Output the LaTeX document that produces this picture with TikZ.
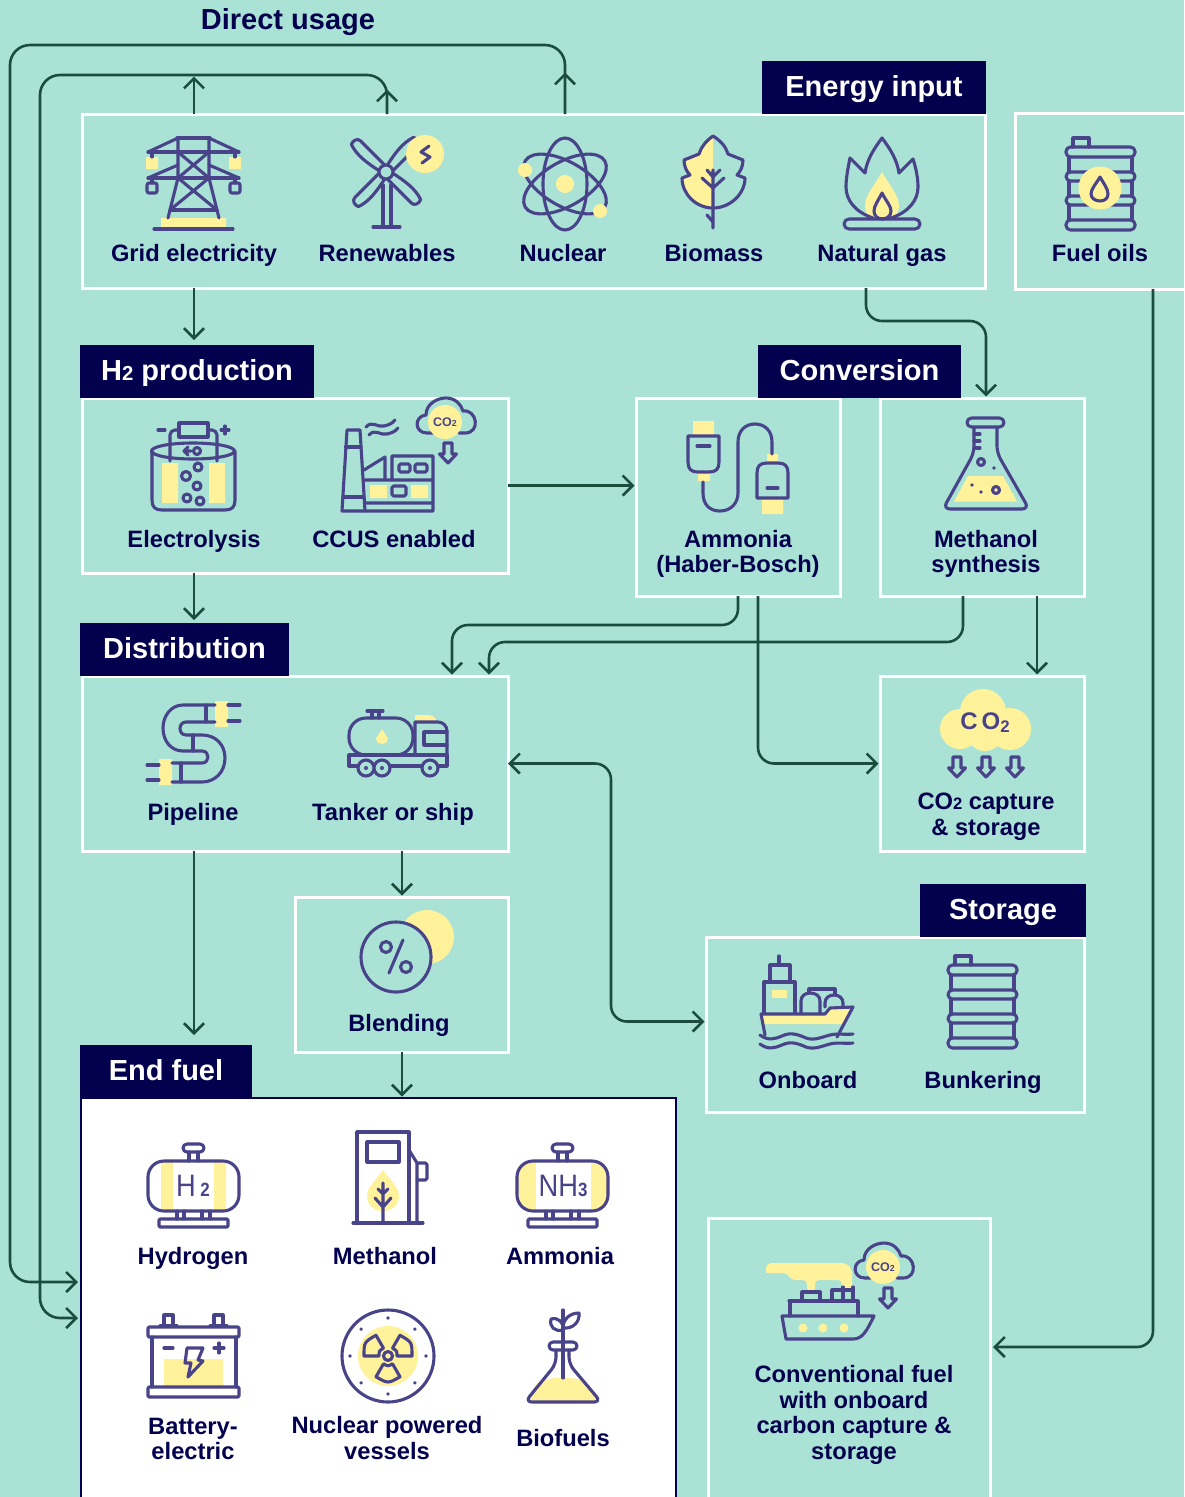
\documentclass[tikz,border=0pt]{standalone}
\usepackage{fontspec}
\setmainfont{Liberation Sans}
\usetikzlibrary{arrows.meta}
\definecolor{seafoam}{HTML}{AAE3D6}
\definecolor{navyink}{HTML}{03004D}
\definecolor{iconink}{HTML}{49438A}
\definecolor{sunny}{HTML}{FFF29B}
\definecolor{pipegreen}{HTML}{1B4D3E}
\tikzset{
  panel/.style={draw=white, line width=3pt, anchor=north west, inner sep=0pt, outer sep=0pt},
  tag/.style={fill=navyink, text=white, inner sep=0pt, outer sep=0pt, minimum height=53pt,
    text height=21pt, text depth=3pt, font=\fontsize{29}{31}\selectfont\bfseries},
  lbl/.style={text=navyink, inner sep=0pt, anchor=base, align=center,
    font=\fontsize{23.7}{25.6}\selectfont\bfseries},
  flow/.style={draw=pipegreen, line width=2.6pt, rounded corners=16pt, shorten >=1.5pt,
    -{Straight Barb[length=10pt,width=20pt]}},
  ink/.style={draw=iconink, line width=3.1pt, line cap=round, line join=round},
  sun/.style={fill=sunny, draw=none},
  inktext/.style={text=iconink, inner sep=0pt}
}
\newcommand{\smalltwo}{\scalebox{0.7}{2}}
\newcommand{\barrelicon}[2]{%
  \begin{scope}[shift={(#1,#2)}]
    \draw[ink] (7,9) -- (7,0) -- (23,0) -- (23,9);
    \draw[ink] (3,19) -- (3,34) (66,19) -- (66,34) (3,43) -- (3,58) (66,43) -- (66,58) (3,67) -- (3,82) (66,67) -- (66,82);
    \draw[ink, rounded corners=4.5pt] (0,9) rectangle (69,19);
    \draw[ink, rounded corners=4.5pt] (0,34) rectangle (69,43);
    \draw[ink, rounded corners=4.5pt] (0,58) rectangle (69,67);
    \draw[ink, rounded corners=4.5pt] (0,82) rectangle (69,92);
  \end{scope}}
\newcommand{\cloudicon}[2]{%
  \begin{scope}[shift={(#1,#2)}]
    \draw[ink] (-12,11) -- (-18,11) .. controls (-31,11) and (-31,-6) .. (-19,-7)
      .. controls (-19,-18) and (-8,-24) .. (1,-24) .. controls (10,-24) and (16,-18) .. (18,-11)
      .. controls (32,-13) and (36,11) .. (20,11) -- (14,11);
    \fill[sun] (0,0) circle (17);
    \node[inktext, font=\fontsize{12.5}{13}\selectfont\bfseries] at (0,0.5) {CO\smalltwo};
  \end{scope}}
\newcommand{\sinkarrow}[2]{%
  \draw[ink, shift={(#1,#2)}] (-4,0) -- (4,0) -- (4,11) -- (8.5,11) -- (0,20) -- (-8.5,11) -- (-4,11) -- cycle;}
\newcommand{\gastank}[2]{%
  \begin{scope}[shift={(#1,#2)}]
    \draw[ink, rounded corners=16pt] (0,17) rectangle (91,67);
    \draw[ink, rounded corners=4pt] (35,0) rectangle (56,8);
    \draw[ink] (41,8) -- (41,17) (50,8) -- (50,17) (29,67) -- (29,75) (36,67) -- (36,75) (54,67) -- (54,75) (62,67) -- (62,75);
    \draw[ink, rounded corners=1pt] (11,75) rectangle (80,83);
  \end{scope}}

\begin{document}
\begin{tikzpicture}[x=1pt, y=-1pt]
\useasboundingbox (0,0) rectangle (1184,1497);
\fill[seafoam] (0,0) rectangle (1184,1497);

% panels
\node[panel, minimum width=903pt, minimum height=174pt] (energy) at (82,114) {};
\node[panel, minimum width=180pt, minimum height=176pt] (fuel) at (1015,113) {};
\node[panel, minimum width=426pt, minimum height=175pt] (hprod) at (82,398) {};
\node[panel, minimum width=204pt, minimum height=198pt] (ammonia) at (636,398) {};
\node[panel, minimum width=204pt, minimum height=198pt] (methanol) at (880,398) {};
\node[panel, minimum width=426pt, minimum height=175pt] (distribution) at (82,676) {};
\node[panel, minimum width=204pt, minimum height=175pt] (capture) at (880,676) {};
\node[panel, minimum width=213pt, minimum height=155pt] (blending) at (295,897) {};
\node[panel, minimum width=378pt, minimum height=175pt] (storage) at (706,937) {};
\node[panel, draw=navyink, line width=1.5pt, fill=white, minimum width=595pt, minimum height=430pt] (endfuel) at (81,1098) {};
\node[panel, minimum width=282pt, minimum height=320pt] (conventional) at (708,1218) {};

% tags
\node[tag, anchor=south east, minimum width=224pt] (energytag) at ([xshift=1pt]energy.north east) {Energy input};
\node[tag, anchor=south west, minimum width=234pt] (hprodtag) at ([xshift=-2pt]hprod.north west) {H\smalltwo{} production};
\node[tag, anchor=south west, minimum width=203pt] (conversiontag) at ([xshift=122pt]ammonia.north west) {Conversion};
\node[tag, anchor=south west, minimum width=209pt] (distributiontag) at ([xshift=-2pt]distribution.north west) {Distribution};
\node[tag, anchor=south east, minimum width=166pt] (storagetag) at ([xshift=2pt]storage.north east) {Storage};
\node[tag, anchor=south west, minimum width=172pt] (endfueltag) at ([xshift=-1pt]endfuel.north west) {End fuel};
\node[lbl, font=\fontsize{29}{31}\selectfont\bfseries] (direct) at (288,29) {Direct usage};

% labels
\node[lbl] (gridlbl) at (194,261) {Grid electricity};
\node[lbl] (renewlbl) at (387,261) {Renewables};
\node[lbl] (nuclearlbl) at (563,261) {Nuclear};
\node[lbl] (biomasslbl) at (714,261) {Biomass};
\node[lbl] (gaslbl) at (882,261) {Natural gas};
\node[lbl] (fuellbl) at (1100,261) {Fuel oils};
\node[lbl] (electrolbl) at (194,547) {Electrolysis};
\node[lbl] (ccuslbl) at (394,547) {CCUS enabled};
\node[lbl, anchor=center] (ammonialbl) at (738,554) {Ammonia\\(Haber-Bosch)};
\node[lbl, anchor=center] (methanollbl) at (986,554) {Methanol\\synthesis};
\node[lbl] (pipelbl) at (193,820) {Pipeline};
\node[lbl] (tankerlbl) at (393,820) {Tanker or ship};
\node[lbl, anchor=center] (capturelbl) at (986,817) {CO\smalltwo{} capture\\\& storage};
\node[lbl] (blendlbl) at (399,1031) {Blending};
\node[lbl] (onboardlbl) at (808,1088) {Onboard};
\node[lbl] (bunkerlbl) at (983,1088) {Bunkering};
\node[lbl] (hydrogenlbl) at (193,1264) {Hydrogen};
\node[lbl] (methlbl) at (385,1264) {Methanol};
\node[lbl] (ammlbl) at (560,1264) {Ammonia};
\node[lbl, anchor=center] (batterylbl) at (193,1439) {Battery-\\electric};
\node[lbl, anchor=center] (nuclearvessellbl) at (387,1438) {Nuclear powered\\vessels};
\node[lbl] (biofuellbl) at (563,1446) {Biofuels};
\node[lbl, anchor=center] (conventionallbl) at (854,1415) {Conventional fuel\\with onboard\\carbon capture \&\\storage};

% connectors
\coordinate (atom) at (565,184);
\coordinate (windhub) at (387,172);
\coordinate (outerring) at (10,45);
\coordinate (innerring) at (40,75);
\coordinate (ammoniadrop) at (452,625);
\coordinate (methanoldrop) at (489,642);
\coordinate (midbus) at (611,900);
\draw[flow, rounded corners=20pt, shorten >=3pt] (atom |- energy.north) |- (outerring) |- ([yshift=-184pt]endfuel.north west);
\draw[flow] (atom |- energy.north) -- ++(0,-43);
\draw[flow, rounded corners=20pt, shorten >=3pt] (windhub |- energy.north) |- (innerring) |- ([yshift=-220pt]endfuel.north west);
\draw[flow] (windhub |- energy.north) -- ++(0,-26);
\draw[flow] (gridlbl |- energy.north) -- (gridlbl |- innerring);
\draw[flow, shorten >=5pt] (gridlbl |- energy.south) -- (gridlbl |- hprodtag.north);
\draw[flow] ([xshift=784pt]energy.south west) |- ([xshift=106pt,yshift=77pt]methanol.north west) -- ([xshift=106pt]methanol.north west);
\draw[flow] (hprod.east) -- (hprod.east -| ammonia.west);
\draw[flow, shorten >=3pt] (gridlbl |- hprod.south) -- (gridlbl |- distributiontag.north);
\draw[flow] (ammonia.south) |- (ammoniadrop) -- (ammoniadrop |- distribution.north);
\draw[flow] ([xshift=83pt]methanol.south west) |- (methanoldrop) -- (methanoldrop |- distribution.north);
\draw[flow] ([xshift=157pt]methanol.south west) -- ([xshift=157pt]capture.north west);
\draw[flow] ([xshift=20pt]ammonia.south) |- (capture.west);
\draw[flow, {Straight Barb[length=10pt,width=20pt]}-{Straight Barb[length=10pt,width=20pt]}] (distribution.east) -| (midbus) |- ([yshift=3pt]storage.west);
\draw[flow] ([xshift=320pt]distribution.south west) -- ([xshift=107pt]blending.north west);
\draw[flow, shorten >=10pt] (gridlbl |- distribution.south) -- (gridlbl |- endfueltag.north);
\draw[flow] ([xshift=107pt]blending.south west) -- ([xshift=321pt]endfuel.north west);
\draw[flow, shorten >=3pt] ([xshift=138pt]fuel.south west) |- ([yshift=-129pt]conventional.north east);

% grid pylon
\fill[sun] (146,157) rectangle (158,169) (229,157) rectangle (241,169) (161,218) rectangle (226,227);
\draw[ink] (177,138) -- (210,138) (148,152) -- (239,152) (148,178) -- (239,178) (154,229) -- (233,229) (170,210) -- (217,210);
\draw[ink] (148,152) -- (178,138) -- (178,178) -- (168,218) (239,152) -- (209,138) -- (209,178) -- (219,218);
\draw[ink] (148,178) -- (178,165) (239,178) -- (209,165) (178,152) -- (209,178) (209,152) -- (178,178) (178,178) -- (217,210) (209,178) -- (170,210);
\draw[ink] (152,152) -- (152,157) (235,152) -- (235,157) (152,178) -- (152,183) (235,178) -- (235,183);
\draw[ink, rounded corners=2pt] (147,183) rectangle (157,193) (230,183) rectangle (240,193);

% wind turbine
\draw[ink] (383,185) -- (383,227) (391,185) -- (391,227) (373,227) -- (400,227);
\draw[ink, shift={(386,172)}, rotate=135] (6,4) -- (40,4) .. controls (44,4) and (46,-1) .. (44,-5) .. controls (33,-9) and (20,-7) .. (6,-4);
\draw[ink, shift={(386,172)}, rotate=45] (6,4) -- (40,4) .. controls (44,4) and (46,-1) .. (44,-5) .. controls (33,-9) and (20,-7) .. (6,-4);
\draw[ink, shift={(386,172)}, rotate=-45] (6,4) -- (40,4) .. controls (44,4) and (46,-1) .. (44,-5) .. controls (33,-9) and (20,-7) .. (6,-4);
\draw[ink, shift={(386,172)}, rotate=-135] (6,4) -- (40,4) .. controls (44,4) and (46,-1) .. (44,-5) .. controls (33,-9) and (20,-7) .. (6,-4);
\draw[ink, fill=seafoam] (386,172) circle (7);
\fill[sun] (425,154) circle (19);
\draw[ink] (429,146) -- (421,152) -- (430,157) -- (422,163);

% atom
\fill[sun] (atom) circle (9);
\draw[ink] (atom) ellipse [x radius=22, y radius=46];
\draw[ink, rotate around={60:(atom)}] (atom) ellipse [x radius=22, y radius=46];
\draw[ink, rotate around={-60:(atom)}] (atom) ellipse [x radius=22, y radius=46];
\fill[sun] (525,170) circle (7) (600,211) circle (7);

% leaf
\fill[sun] (713,136) .. controls (706,141) and (701,147) .. (699,154) -- (684,160) .. controls (684,167) and (687,172) .. (690,175) -- (682,178) .. controls (682,194) and (696,208) .. (713,208) -- cycle;
\draw[ink] (713,136) .. controls (706,141) and (701,147) .. (699,154) -- (684,160) .. controls (684,167) and (687,172) .. (690,175) -- (682,178) .. controls (682,194) and (696,208) .. (713,208) .. controls (730,208) and (745,194) .. (745,178) -- (737,175) .. controls (740,172) and (743,167) .. (743,160) -- (728,154) .. controls (726,147) and (721,141) .. (713,136);
\draw[ink] (713,170) -- (713,228) (707,170) -- (713,177) -- (720,170) (702,178) -- (713,188) -- (724,178) (707,215) -- (713,222);

% flame
\fill[sun] (882,172) .. controls (875,185) and (865,195) .. (865,206) .. controls (865,212) and (868,216) .. (873,219) -- (891,219) .. controls (896,216) and (899,212) .. (899,206) .. controls (899,195) and (889,185) .. (882,172);
\draw[ink] (873,218) .. controls (855,212) and (846,200) .. (846,187) .. controls (846,178) and (848,168) .. (850,158) -- (865,173) .. controls (867,160) and (873,150) .. (882,138) .. controls (891,150) and (897,160) .. (899,173) -- (913,159) .. controls (916,168) and (918,178) .. (918,187) .. controls (918,200) and (909,212) .. (891,218);
\draw[ink] (882,193) .. controls (878,201) and (874,206) .. (874,211) .. controls (874,216) and (878,219) .. (882,219) .. controls (887,219) and (891,216) .. (891,211) .. controls (891,206) and (886,201) .. (882,193);
\draw[ink, rounded corners=5pt] (844,219) rectangle (920,229);

% fuel drum
\barrelicon{1066}{138}
\fill[sun] (1100,188) circle (21.5);
\draw[ink] (1100,177) .. controls (1096,184) and (1091,189) .. (1091,194) .. controls (1091,198) and (1095,201) .. (1100,201) .. controls (1105,201) and (1108,198) .. (1108,194) .. controls (1108,189) and (1104,184) .. (1100,177);

% electrolysis
\fill[sun] (162,463) rectangle (178,503) (209,463) rectangle (225,503);
\draw[ink] (152,451) -- (152,500) .. controls (152,507) and (155,510) .. (162,510) -- (225,510) .. controls (232,510) and (235,507) .. (235,500) -- (235,451);
\draw[ink] (193,451) ellipse [x radius=41.5, y radius=8];
\draw[ink, rounded corners=5pt] (170,461) -- (170,430) -- (179,430) (217,461) -- (217,430) -- (208,430);
\draw[ink] (179,423) rectangle (208,437);
\draw[ink] (158,430) -- (165,430) (221,430) -- (229,430) (225,426) -- (225,434);
\draw[ink] (191,451) -- (184,451) (188,447) -- (184,451) -- (188,455);
\draw[ink] (197,451) circle (3.5) (198,467) circle (4) (186,476) circle (4.5) (197,486) circle (4) (187,498) circle (4) (200,501) circle (4);

% factory
\fill[sun] (370,485) rectangle (387,498) (411,485) rectangle (428,498);
\draw[ink] (342,511) -- (347,430) -- (360,430) -- (365,511) -- cycle;
\draw[ink] (345.5,447) -- (361,447) (343,497) -- (364,497);
\draw[ink] (365,511) -- (433,511) -- (433,456) -- (392,456) -- (392,480) (365,480) -- (433,480) (365,503) -- (433,503) (364,470) -- (385,457) -- (385,480);
\draw[ink, rounded corners=1.5pt] (399,464) rectangle (410,472) (415,464) rectangle (427,472) (392,486) rectangle (406,496);
\draw[ink] (366,427) .. controls (372,420) and (378,428) .. (384,426) .. controls (388,425) and (392,424) .. (395,420);
\draw[ink] (369,435) .. controls (375,428) and (381,436) .. (387,434) .. controls (391,433) and (395,432) .. (398,428);
\cloudicon{445}{422}
\sinkarrow{448}{443}

% plugs
\fill[sun] (693,421) rectangle (714,436) (698,472) rectangle (710,481) (767,454) rectangle (778,463) (762,498) rectangle (783,514);
\draw[ink] (688,436) -- (719,436) -- (719,462) .. controls (719,469) and (716,472) .. (709,472) -- (698,472) .. controls (691,472) and (688,469) .. (688,462) -- cycle;
\draw[ink] (757,498) -- (788,498) -- (788,473) .. controls (788,466) and (785,463) .. (778,463) -- (767,463) .. controls (760,463) and (757,466) .. (757,473) -- cycle;
\draw[ink] (697,446) -- (710,446) (767,488) -- (778,488);
\draw[ink] (703,482) -- (703,493) .. controls (703,505) and (710,511) .. (720,511) .. controls (731,511) and (738,503) .. (738,493) -- (738,442) .. controls (738,431) and (745,424) .. (755,424) .. controls (765,424) and (772,431) .. (772,442) -- (772,454);

% flask
\fill[sun] (968,476) -- (1003,476) -- (1017,501.5) -- (954,501.5) -- cycle;
\draw[ink, rounded corners=4.5pt] (967,418) rectangle (1004,427);
\draw[ink, rounded corners=7pt] (974,427) -- (974,453) -- (943,509) -- (1029,509) -- (997,453) -- (997,427);
\draw[ink] (974,434) -- (980,434) (974,441) -- (980,441) (974,448) -- (980,448);
\draw[ink] (981,462) circle (3.5) (996,490) circle (3.5);
\fill[iconink] (994,468) circle (1.8) (972,485) circle (1.8) (981,492) circle (1.8);

% pipeline
\fill[sun] (215,701) rectangle (228,727) (159,759) rectangle (172,785);
\draw[ink] (215,705) -- (183,705) .. controls (171,705) and (163,716) .. (163,728) .. controls (163,741) and (171,751) .. (183,751) -- (202,751) .. controls (210,751) and (210,763) .. (202,763) -- (172,763);
\draw[ink] (215,722) -- (186,722) .. controls (178,722) and (178,735) .. (186,735) -- (202,735) .. controls (216,735) and (225,745) .. (225,758) .. controls (225,772) and (215,782) .. (202,782) -- (172,782);
\draw[ink] (206,705) -- (206,722) (193,735) -- (193,751) (181,763) -- (181,782);
\draw[ink] (228,705) -- (240,705) (228,721) -- (240,721) (147,765) -- (159,765) (147,780) -- (159,780);

% tanker
\fill[sun] (415,722) -- (415,715) -- (428,715) .. controls (433,715) and (436,718) .. (437,722) -- cycle;
\draw[ink, rounded corners=17pt] (349,718) rectangle (413,755);
\fill[sun] (382,729) .. controls (379,735) and (376,737) .. (376,739) .. controls (376,742) and (379,744) .. (382,744) .. controls (385,744) and (388,742) .. (388,739) .. controls (388,737) and (385,735) .. (382,729);
\draw[ink] (367,711) -- (383,711) (372,711) -- (372,718) (379,711) -- (379,718);
\draw[ink] (349,755) -- (447,755) -- (447,766) -- (349,766) -- cycle;
\draw[ink] (415,755) -- (415,722) -- (438,722) .. controls (443,722) and (447,726) .. (447,731) -- (447,755);
\draw[ink] (447,732) -- (424,732) -- (424,745) -- (447,745);
\draw[ink, fill=seafoam] (366,768) circle (8) (382,768) circle (8) (430,768) circle (8);
\fill[iconink] (366,768) circle (2) (382,768) circle (2) (430,768) circle (2);

% co2 cloud
\fill[sun] (983,712) circle (23) (960,729) circle (20) (1010,729) circle (21) (985,733) circle (18);
\node[inktext, font=\fontsize{24}{26}\selectfont\bfseries] (cotext) at (985,723) {C\,O\raisebox{-3pt}{\smalltwo}};
\sinkarrow{957}{757}
\sinkarrow{986}{757}
\sinkarrow{1015}{757}

% percent
\fill[sun] (427,937) circle (27);
\draw[ink, fill=seafoam] (396,957) circle (35);
\draw[ink] (386,947) circle (5.5) (406,967) circle (5.5) (403,940) -- (389,973);

% ship
\fill[sun] (762,1015) -- (825,1015) -- (830,1009) -- (850,1009) -- (842,1024) -- (763,1024) -- cycle;
\fill[sun] (772,990) rectangle (787,998);
\draw[ink] (779,956) -- (779,965) (770,982) -- (770,965) -- (790,965) -- (790,982) (764,1013) -- (764,982) -- (795,982) -- (795,1013);
\draw[ink] (801,1013) -- (801,1001) .. controls (801,996) and (805,993) .. (810,993) .. controls (816,993) and (820,996) .. (820,1001) -- (820,1013);
\draw[ink] (825,1007) -- (825,1003) .. controls (825,998) and (829,995) .. (834,995) .. controls (839,995) and (843,998) .. (843,1003) -- (843,1007);
\draw[ink] (809,993) -- (809,989) -- (835,989) -- (835,995);
\draw[ink] (765,1035) -- (761,1014) -- (825,1014) -- (830,1008) -- (853,1007) -- (837,1037);
\draw[ink] (760,1035) .. controls (768,1041) and (775,1039) .. (782,1036) .. controls (790,1032) and (797,1034) .. (806,1038) .. controls (814,1041) and (822,1037) .. (830,1035) .. controls (838,1033) and (845,1035) .. (853,1034);
\draw[ink] (760,1044) .. controls (768,1050) and (775,1048) .. (782,1045) .. controls (790,1041) and (797,1043) .. (806,1047) .. controls (814,1050) and (822,1046) .. (830,1044) .. controls (838,1042) and (845,1044) .. (853,1043);
\barrelicon{948}{956}

% hydrogen and ammonia tanks
\fill[sun] (161,1162) rectangle (173,1210) (214,1162) rectangle (226,1210);
\gastank{148}{1144}
\node[inktext, font=\fontsize{31}{33}\selectfont] (htwotext) at (193,1186) {\scalebox{0.88}[1]{H\,\raisebox{-0.5pt}{\scalebox{0.62}{\textbf{2}}}}};
\fill[sun, rounded corners=16pt] (517,1161) rectangle (608,1211);
\fill[white] (536,1160) rectangle (591,1212);
\gastank{517}{1144}
\node[inktext, font=\fontsize{31}{33}\selectfont] (nhtext) at (563,1186) {\scalebox{0.88}[1]{NH\raisebox{-0.5pt}{\scalebox{0.62}{\textbf{3}}}}};

% fuel pump
\fill[sun] (383,1170) .. controls (377,1179) and (367,1187) .. (367,1196) .. controls (367,1205) and (374,1211) .. (383,1211) .. controls (392,1211) and (399,1205) .. (399,1196) .. controls (399,1187) and (389,1179) .. (383,1170);
\draw[ink] (357,1223) -- (357,1132) -- (409,1132) -- (409,1223) (353,1223) -- (423,1223);
\draw[ink] (367,1142) rectangle (399,1162);
\draw[ink] (409,1150) -- (417,1163) -- (417,1223);
\draw[ink, rounded corners=1.5pt] (417,1163) -- (427,1163) -- (427,1180) -- (417,1180);
\draw[ink] (383,1183) -- (383,1223) (375,1198) -- (383,1207) -- (391,1198) (378,1189) -- (383,1194) -- (388,1189);

% battery
\fill[sun] (164,1359) rectangle (223,1386);
\draw[ink] (152,1337) -- (152,1387) (236,1337) -- (236,1387);
\draw[ink, rounded corners=1pt] (148,1327) rectangle (239,1337) (148,1387) rectangle (239,1397);
\draw[ink] (164,1325) -- (164,1315) -- (173,1315) -- (173,1325) (214,1325) -- (214,1315) -- (223,1315) -- (223,1325) (160,1326) -- (177,1326) (210,1326) -- (227,1326);
\draw[ink] (164,1348) -- (173,1348) (214,1348) -- (224,1348) (219,1343) -- (219,1353);
\draw[ink] (187,1348) -- (203,1348) -- (198,1360) -- (203,1361) -- (188,1377) -- (191,1363) -- (185,1363) -- cycle;

% nuclear emblem
\draw[ink] (388,1356) circle (46);
\fill[sun] (388,1356) circle (30);
\begin{scope}[shift={(388,1356)}]
  \draw[ink] (180:9) -- (180:24) .. controls (-150:27.7) .. (-120:24) -- (-120:9) .. controls (-150:10.4) .. (180:9);
  \draw[ink] (0:9) -- (0:24) .. controls (-30:27.7) .. (-60:24) -- (-60:9) .. controls (-30:10.4) .. (0:9);
  \draw[ink] (60:9) -- (60:24) .. controls (90:27.7) .. (120:24) -- (120:9) .. controls (90:10.4) .. (60:9);
  \draw[ink] (0,0) circle (4.5);
  \fill[iconink] (0:38) circle (1.8) (45:38) circle (1.8) (90:38) circle (1.8) (135:38) circle (1.8) (180:38) circle (1.8) (225:38) circle (1.8) (270:38) circle (1.8) (315:38) circle (1.8);
\end{scope}

% biofuel flask
\fill[sun, rounded corners=6pt] (537,1382) .. controls (547,1379) and (555,1378) .. (563,1378) .. controls (571,1378) and (579,1379) .. (587,1382) -- (600,1401) -- (527,1401) -- cycle;
\draw[ink, rounded corners=4pt] (549,1342) rectangle (577,1350);
\draw[ink, rounded corners=7pt] (556,1350) -- (556,1364) -- (525,1402) -- (601,1402) -- (569,1364) -- (569,1350);
\draw[ink] (563,1310) -- (563,1378);
\draw[ink] (563,1330) .. controls (555,1332) and (549,1327) .. (551,1319) .. controls (558,1317) and (564,1322) .. (563,1330);
\draw[ink] (563,1328) .. controls (563,1319) and (570,1313) .. (579,1313) .. controls (580,1322) and (573,1329) .. (563,1328);

% conventional ship
\fill[sun, rounded corners=4pt] (771,1263) -- (846,1263) -- (852,1269) -- (852,1290) -- (842,1290) -- (842,1280) -- (815,1280) -- (815,1292) -- (807,1292) -- (807,1280) -- (791,1280) -- (787,1273) -- (771,1273) .. controls (765,1273) and (765,1263) .. (771,1263);
\draw[ink] (802,1301) -- (802,1292) -- (820,1292) -- (820,1301) (832,1301) -- (832,1290) -- (853,1290) (843,1301) -- (843,1287) (853,1301) -- (853,1287);
\draw[ink] (789,1301) -- (858,1301) (790,1301) -- (790,1316) (858,1301) -- (858,1316);
\draw[ink] (782,1316) -- (874,1316) .. controls (867,1330) and (863,1339) .. (853,1339) -- (786,1339) -- cycle;
\fill[sun] (803,1328) circle (4.5) (823,1328) circle (4.5) (844,1328) circle (4.5);
\cloudicon{883}{1267}
\sinkarrow{888}{1288}
\end{tikzpicture}
\end{document}
